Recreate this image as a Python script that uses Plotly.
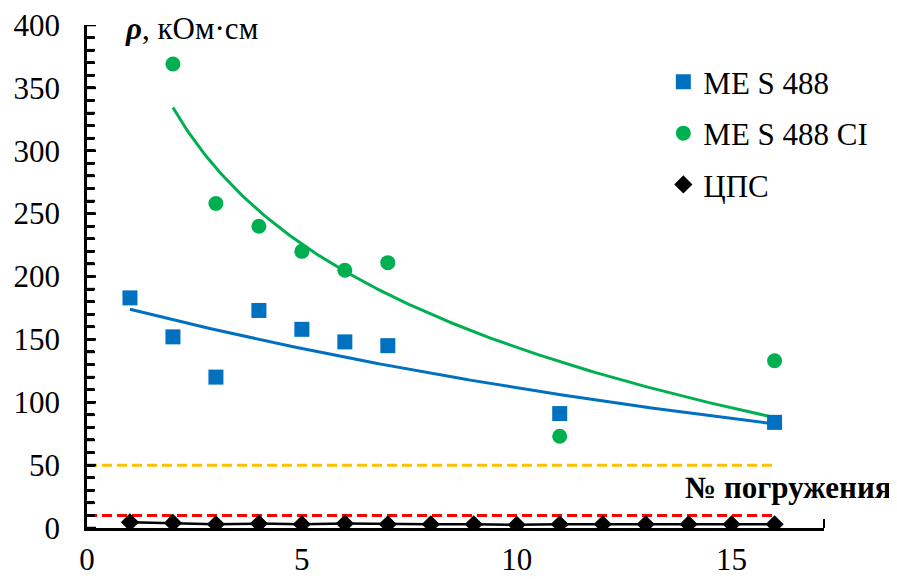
import numpy as np
import plotly.graph_objects as go

# ---- data ----
x_me = [1, 2, 3, 4, 5, 6, 7, 11, 16]
y_me = [183, 152, 120, 173, 158, 148, 145, 91, 84]

x_ci = [2, 3, 4, 5, 6, 7, 11, 16]
y_ci = [369, 258, 240, 220, 205, 211, 73, 133]

x_cps = list(range(1, 17))
y_cps = [4.5, 4, 3, 3.5, 3, 3.5, 3, 3, 3, 2.5, 3, 3, 3, 3, 3, 3]

limit_x = [0, 16]
limit_orange = [50, 50]
limit_red = [10, 10]

y_max = 400
y_tick_step = 50
y_minor_step = 10
x_tick_step = 5

BLUE = "#0070C0"
GREEN = "#00B050"
FONT = "'Liberation Serif', 'Times New Roman', 'DejaVu Serif', serif"
FS = 31

# ---- trendlines (Excel-style fits) ----
b_me, lna_me = np.polyfit(np.array(x_me, float), np.log(np.array(y_me, float)), 1)
xt_me = np.linspace(min(x_me), max(x_me), 200)
yt_me = np.exp(lna_me) * np.exp(b_me * xt_me)

b_ci, a_ci = np.polyfit(np.log(np.array(x_ci, float)), np.array(y_ci, float), 1)
xt_ci = np.linspace(min(x_ci), max(x_ci), 200)
yt_ci = a_ci + b_ci * np.log(xt_ci)

fig = go.Figure()

# limit lines
fig.add_trace(go.Scatter(x=limit_x, y=limit_orange, mode="lines",
                         line=dict(color="#FFC000", width=3, dash="10px,5px"),
                         showlegend=False, hoverinfo="skip"))
fig.add_trace(go.Scatter(x=limit_x, y=limit_red, mode="lines",
                         line=dict(color="#FF0000", width=3, dash="10px,5px"),
                         showlegend=False, hoverinfo="skip"))

# trendlines
fig.add_trace(go.Scatter(x=xt_me, y=yt_me, mode="lines",
                         line=dict(color=BLUE, width=3), showlegend=False, hoverinfo="skip"))
fig.add_trace(go.Scatter(x=xt_ci, y=yt_ci, mode="lines",
                         line=dict(color=GREEN, width=3), showlegend=False, hoverinfo="skip"))
fig.add_trace(go.Scatter(x=x_cps, y=y_cps, mode="lines",
                         line=dict(color="black", width=2.5), showlegend=False, hoverinfo="skip"))

# series
fig.add_trace(go.Scatter(x=x_me, y=y_me, mode="markers", name="ME S 488",
                         legendgroup="a",
                         marker=dict(symbol="square", size=15, color=BLUE)))
fig.add_trace(go.Scatter(x=x_ci, y=y_ci, mode="markers", name="ME S 488 CI",
                         legendgroup="b",
                         marker=dict(symbol="circle", size=15, color=GREEN)))
fig.add_trace(go.Scatter(x=x_cps, y=y_cps, mode="markers", name="ЦПС",
                         legendgroup="c",
                         marker=dict(symbol="diamond", size=14, color="black")))

# the page body adds an 8px offset; margins compensate so the plot area
# spans x 87..824 and y 25..528 in the screenshot
fig.update_layout(
    width=897, height=579,
    margin=dict(l=79, r=81, t=17, b=59, autoexpand=False),
    paper_bgcolor="white", plot_bgcolor="white",
    font=dict(family=FONT, size=FS, color="black"),
    legend=dict(x=0.782, y=0.94, xanchor="left", yanchor="top",
                font=dict(family=FONT, size=FS, color="black"),
                tracegroupgap=8, itemwidth=30, bgcolor="rgba(0,0,0,0)"),
    xaxis=dict(range=[0, 17.15], tickmode="linear", tick0=0, dtick=x_tick_step,
               showgrid=False, zeroline=False, showline=True, linecolor="black", linewidth=2.5,
               ticks="inside", ticklen=8, tickwidth=2, tickcolor="black", automargin=False,
               tickfont=dict(family=FONT, size=FS), ticklabelstandoff=2,
               ticklabeloverflow="allow"),
    yaxis=dict(range=[0, y_max + 0.01], tickmode="linear", tick0=0, dtick=y_tick_step,
               showgrid=False, zeroline=False, showline=True, linecolor="black", linewidth=2.5,
               ticks="inside", ticklen=8, tickwidth=2.5, tickcolor="black", automargin=False,
               minor=dict(ticks="inside", tick0=0, dtick=y_minor_step, ticklen=7,
                          tickwidth=2.5, tickcolor="black", showgrid=False),
               tickfont=dict(family=FONT, size=FS), ticklabelstandoff=18,
               ticklabeloverflow="allow"),
)

# inside tick marks on the value axis (every 10, slightly longer every 50)
for v in range(0, y_max + 1, y_minor_step):
    length = 9 if v % y_tick_step == 0 else 8
    fig.add_shape(type="line", xref="paper", yref="y", x0=0, x1=length / 737, y0=v, y1=v,
                  line=dict(color="black", width=2.5), layer="above")

# end tick of the category axis
fig.add_shape(type="line", xref="paper", yref="paper", x0=1, x1=1, y0=0, y1=9 / 503,
              line=dict(color="black", width=2), layer="above")

fig.add_annotation(text="<b><i>ρ</i></b>, кОм·см", xref="paper", yref="paper",
                   x=(123 - 87) / 737, y=(528 - 29) / 503, xanchor="left", yanchor="middle",
                   showarrow=False, font=dict(family=FONT, size=FS, color="black"))
fig.add_annotation(text="<b>№ погружения</b>", xref="paper", yref="paper",
                   x=(894 - 87) / 737, y=(528 - 487) / 503, xanchor="right", yanchor="middle",
                   showarrow=False, font=dict(family=FONT, size=FS, color="black"))

fig.write_html("out.html")
